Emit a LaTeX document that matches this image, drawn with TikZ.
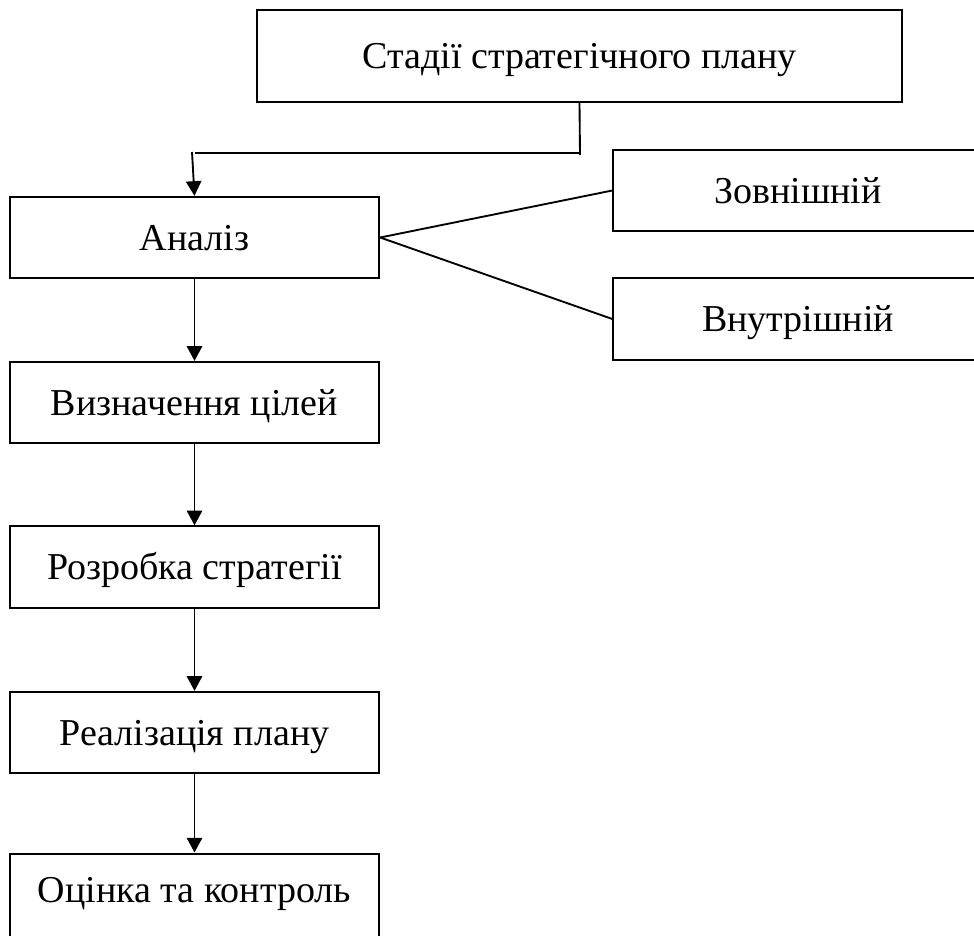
\documentclass[tikz,border=0pt]{standalone}
\usepackage{fontspec}
\setmainfont{Liberation Serif}
\usetikzlibrary{arrows.meta}
\begin{document}
\begin{tikzpicture}[x=0.75pt,y=-0.75pt,
  box/.style={draw,line width=1.5pt,rectangle,inner sep=0pt,
    minimum width=277pt,minimum height=61pt,
    font=\fontsize{28.5}{32}\selectfont,text height=24.6pt,text depth=5.7pt},
  conn/.style={line width=1.4pt},
  arr/.style={conn,-{Triangle[length=11pt,width=11.5pt]}}]
\clip (0,0) rectangle (974,935);
\node[box,minimum width=483.75pt,minimum height=69pt] (top) at (579.5,56) {Стадії стратегічного плану};
\node[box] (an) at (194.5,237.5) {Аналіз};
\node[box] (zv) at (798,190.5) {Зовнішній};
\node[box] (vn) at (798,319) {Внутрішній};
\node[box] (vy) at (194.5,402.5) {Визначення цілей};
\node[box] (ro) at (194.5,567) {Розробка стратегії};
\node[box] (re) at (194.5,732.5) {Реалізація плану};
\node[box,minimum height=66pt] (oc) at (194.5,897.5) {\raisebox{5.6pt}{Оцінка та контроль}};
\coordinate (j0) at (580,155);
\coordinate (j1) at (580,153);
\coordinate (j2) at (195,153);
\coordinate (j3) at (192,152);
\draw[conn] (top.south) -- (j0);
\draw[conn] (j1) -- (j2);
\draw[arr] (j3) -- (an.north);
\draw[conn] (an.east) -- (zv.west);
\draw[conn] (an.east) -- (vn.west);
\draw[arr] (an.south) -- (vy.north);
\draw[arr] (vy.south) -- (ro.north);
\draw[arr] (ro.south) -- (re.north);
\draw[arr] (re.south) -- (oc.north);
\end{tikzpicture}
\end{document}
